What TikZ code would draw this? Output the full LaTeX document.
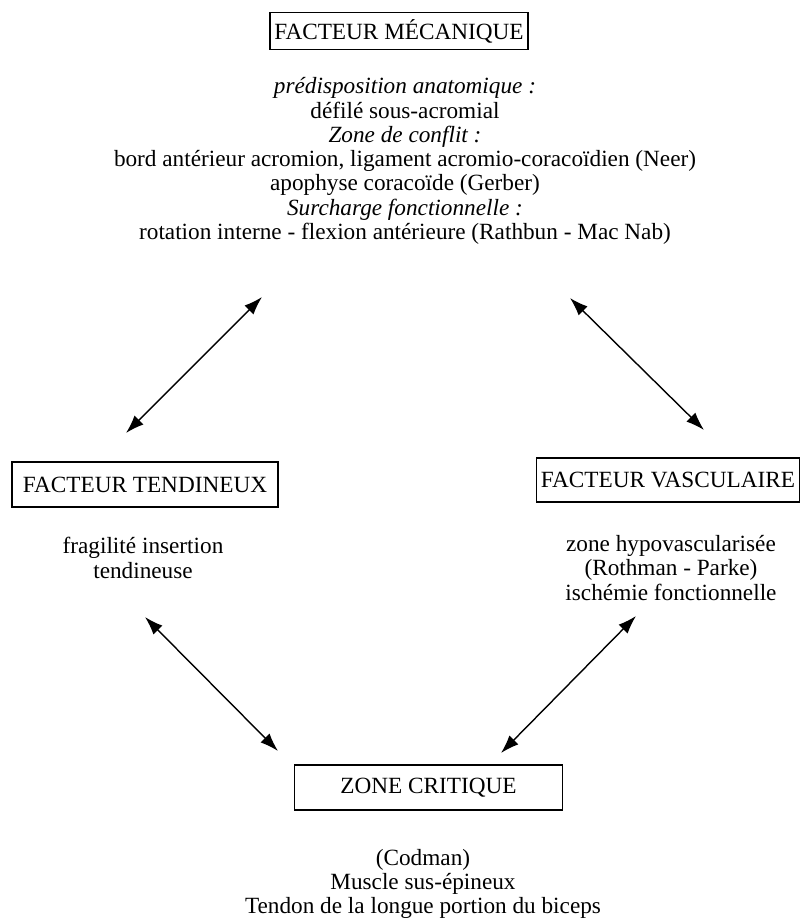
\documentclass[tikz,border=0pt]{standalone}
\usepackage{fontspec}
\setmainfont{Liberation Serif}
\usetikzlibrary{arrows.meta}

\begin{document}
\begin{tikzpicture}[x=0.71pt, y=-0.71pt, >={Latex[length=13pt,width=9pt]}, line width=1pt]
  \tikzstyle{F}=[draw, line width=1.1pt, inner sep=0pt, font=\fontsize{16.5}{17.2}\selectfont]
  \tikzstyle{T}=[align=center, inner sep=0pt, font=\fontsize{16.5}{17.2}\selectfont]

  \useasboundingbox (0,0) rectangle (801,920);

  \node[F, minimum width=183pt, minimum height=26pt] at (399,31) (meca) {FACTEUR MÉCANIQUE};
  \node[F, minimum width=189pt, minimum height=32pt] at (145,484.5) (tend) {FACTEUR TENDINEUX};
  \node[F, minimum width=187pt, minimum height=31pt] at (668,480) (vasc) {FACTEUR VASCULAIRE};
  \node[F, minimum width=190pt, minimum height=32pt] at (428.5,787.5) (zone) {ZONE CRITIQUE};

  \node[T] at (405,161) (mecatxt) {\textit{prédisposition anatomique :}\\
    défilé sous-acromial\\
    \textit{Zone de conflit :}\\
    bord antérieur acromion, ligament acromio-coracoïdien (Neer)\\
    apophyse coracoïde (Gerber)\\
    \textit{Surcharge fonctionnelle :}\\
    rotation interne - flexion antérieure (Rathbun - Mac Nab)};
  \node[T] at (143,558) (tendtxt) {fragilité insertion\\ tendineuse};
  \node[T] at (671,568) (vasctxt) {zone hypovascularisée\\ (Rothman - Parke)\\ ischémie fonctionnelle};
  \node[T] at (423,884) (zonetxt) {(Codman)\\ Muscle sus-épineux\\ Tendon de la longue portion du biceps};

  \coordinate (mt) at (262,297);
  \coordinate (tm) at (126,433);
  \coordinate (mv) at (570,298);
  \coordinate (vm) at (704,430);
  \coordinate (tz) at (145,617);
  \coordinate (zt) at (278,751);
  \coordinate (vz) at (636,616);
  \coordinate (zv) at (501,753);

  \draw [<->] (mt) to (tm);
  \draw [<->] (mv) to (vm);
  \draw [<->] (tz) to (zt);
  \draw [<->] (vz) to (zv);

\end{tikzpicture}
\end{document}
